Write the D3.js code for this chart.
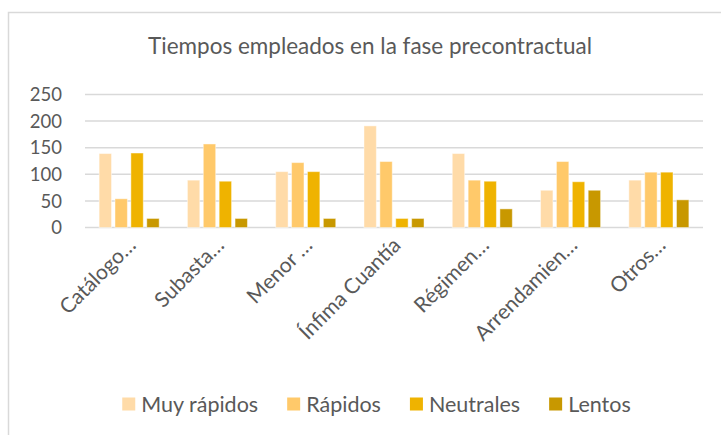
<!DOCTYPE html>
<html>
<head>
<meta charset="utf-8">
<script src="https://cdn.jsdelivr.net/npm/d3@7"></script>
<style>
  body { margin: 0; background: #fff; }
  svg { display: block; font-family: Lato, "Open Sans", sans-serif; }
</style>
</head>
<body>
<svg id="chart" width="721" height="435"></svg>
<script>
// chart data
const categories = ["Catálogo…", "Subasta…", "Menor …", "Ínfima Cuantía", "Régimen…", "Arrendamien…", "Otros…"];
const seriesNames = ["Muy rápidos", "Rápidos", "Neutrales", "Lentos"];
const muyRapidos = [139, 89, 105, 191, 139, 70, 89];
const rapidos = [54, 157, 122, 124, 89, 124, 104];
const neutrales = [140, 87, 105, 17, 87, 86, 104];
const lentos = [17, 17, 17, 17, 35, 70, 52];
const yTicks = [0, 50, 100, 150, 200, 250];
const colors = ["#FFDBA8", "#FFC96A", "#EFB300", "#C89800"];

const series = [muyRapidos, rapidos, neutrales, lentos];
const textColor = "#595959";

const svg = d3.select("#chart");

// outer chart border (cropped on right and bottom)
svg.append("rect")
    .attr("x", 8.5).attr("y", 12.5)
    .attr("width", 730).attr("height", 440)
    .attr("fill", "none")
    .attr("stroke", "#d9d9d9")
    .attr("stroke-width", 1.5);

const margin = {left: 85, right: 18, top: 94.5, bottom: 207.5};
const width = 721, height = 435;

const x0 = d3.scaleBand()
    .domain(categories)
    .range([margin.left, width - margin.right])
    .paddingInner(0.32)
    .paddingOuter(0.16);

const x1 = d3.scaleBand()
    .domain(seriesNames)
    .range([0, x0.bandwidth()])
    .paddingInner(0.22);

const y = d3.scaleLinear()
    .domain([0, 250])
    .range([height - margin.bottom, margin.top]);

// title
svg.append("text")
    .attr("x", 370).attr("y", 54)
    .attr("text-anchor", "middle")
    .attr("fill", textColor)
    .attr("font-size", 22.5)
    .text("Tiempos empleados en la fase precontractual");

// gridlines
svg.append("g")
    .selectAll("line")
    .data(yTicks)
    .join("line")
    .attr("x1", margin.left).attr("x2", width - margin.right)
    .attr("y1", d => y(d)).attr("y2", d => y(d))
    .attr("stroke", "#d9d9d9")
    .attr("stroke-width", 1.5);

// y axis labels
svg.append("g")
    .selectAll("text")
    .data(yTicks)
    .join("text")
    .attr("x", 62)
    .attr("y", d => y(d))
    .attr("dy", "0.36em")
    .attr("text-anchor", "end")
    .attr("fill", textColor)
    .attr("font-size", 18.5)
    .text(d => d);

// bars
const groups = svg.append("g")
    .selectAll("g")
    .data(categories)
    .join("g")
    .attr("transform", d => `translate(${x0(d)},0)`);

groups.selectAll("rect")
    .data((c, i) => series.map((s, j) => ({name: seriesNames[j], value: s[i], color: colors[j]})))
    .join("rect")
    .attr("x", d => x1(d.name))
    .attr("y", d => y(d.value))
    .attr("width", x1.bandwidth())
    .attr("height", d => y(0) - y(d.value))
    .attr("fill", d => d.color)
    .attr("stroke", "#fff")
    .attr("stroke-opacity", 0.45)
    .attr("stroke-width", 1);

// category labels, rotated
svg.append("g")
    .selectAll("text")
    .data(categories)
    .join("text")
    .attr("transform", d => `translate(${x0(d) + x0.bandwidth() / 2 + 8},${y(0) + 19}) rotate(-45)`)
    .attr("text-anchor", "end")
    .attr("fill", textColor)
    .attr("font-size", 21)
    .text(d => d);

// legend
const legend = svg.append("g");
const items = legend.selectAll("g")
    .data(seriesNames)
    .join("g");
items.append("rect")
    .attr("width", 13).attr("height", 13)
    .attr("y", -6.5)
    .attr("fill", (d, i) => colors[i]);
items.append("text")
    .attr("x", 19)
    .attr("dy", "0.36em")
    .attr("fill", textColor)
    .attr("font-size", 21.5)
    .text(d => d);

let lx = 0;
const offsets = [];
items.each(function() {
    offsets.push(lx);
    lx += this.getBBox().width + 29;
});
const totalW = lx - 29;
items.attr("transform", (d, i) => `translate(${offsets[i]},0)`);
legend.attr("transform", `translate(${376.5 - totalW / 2},404)`);
</script>
</body>
</html>
